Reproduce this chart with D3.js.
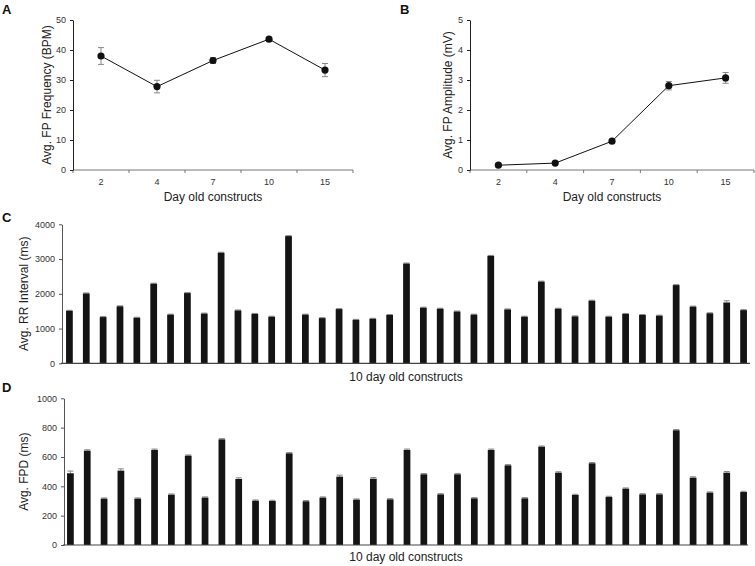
<!DOCTYPE html>
<html><head><meta charset="utf-8">
<script src="https://cdn.jsdelivr.net/npm/d3@7"></script>
<style>
body{margin:0;background:#fff;}
text{font-family:"Liberation Sans",Arial,sans-serif;}
</style></head>
<body><svg id="c" width="755" height="566"></svg>
<script>
// ---- data ----
const days = ["2","4","7","10","15"];
const freqMean = [38.0, 27.8, 36.5, 43.6, 33.3];
const freqErr  = [2.8, 2.1, 1.0, 0.6, 2.2];
const ampMean  = [0.16, 0.23, 0.96, 2.81, 3.07];
const ampErr   = [0.03, 0.03, 0.05, 0.14, 0.18];
const rrValues = [1510,2010,1330,1640,1310,2290,1400,2020,1430,3180,
                  1520,1420,1340,3660,1400,1300,1560,1250,1280,1390,
                  2870,1600,1570,1490,1400,3090,1550,1340,2350,1570,
                  1350,1800,1340,1420,1390,1370,2250,1630,1440,1750,1530];
const rrErr    = [15,15,15,15,15,15,15,15,15,15,15,15,15,15,15,15,15,15,15,15,
                  15,15,15,15,15,15,15,15,15,15,15,15,15,15,15,15,15,15,15,50,15];
const fpdValues = [489,643,316,507,316,648,343,609,323,720,
                   450,302,300,625,298,323,466,309,452,311,
                   648,482,345,482,318,648,543,318,670,493,
                   341,557,327,384,345,345,782,459,357,493,361];
const fpdErr   = [15,6,5,12,5,6,5,5,5,5,8,5,5,5,5,5,10,5,8,5,
                  6,5,5,6,5,6,5,5,5,6,5,5,5,5,5,5,5,6,5,8,5];
const freqTicks = [0,10,20,30,40,50];
const ampTicks  = [0,1,2,3,4,5];
const rrTicks   = [0,1000,2000,3000,4000];
const fpdTicks  = [0,200,400,600,800,1000];

const svg = d3.select("#c");
const axisCol = "#222", tickTextCol = "#333", errCol = "#888";

function styleAxis(g, lineCol){
  g.selectAll("path").attr("stroke", lineCol).attr("stroke-width",1);
  g.selectAll("line").attr("stroke", lineCol);
  g.selectAll("text").attr("fill", tickTextCol).style("font-size","9px").attr("font-family","Liberation Sans, Arial, sans-serif");
}

function letter(t,x,y){
  svg.append("text").attr("x",x).attr("y",y).text(t)
    .style("font-size","13px").style("font-weight","bold").attr("fill","#111");
}

function lineChart(cfg){
  const x = d3.scaleBand().domain(days).range(cfg.xr);
  const y = d3.scaleLinear().domain([0,cfg.max]).range([170,20]);
  const gx = svg.append("g").attr("transform","translate(0,170)");
  gx.append("line").attr("x1",cfg.xr[0]).attr("x2",cfg.xr[1]).attr("stroke","#777");
  const bounds = days.map(d=>x(d)).concat([cfg.xr[1]]);
  gx.selectAll(".tk").data(bounds).enter().append("line")
    .attr("x1",d=>d).attr("x2",d=>d).attr("y1",0).attr("y2",3).attr("stroke","#777");
  gx.selectAll(".lb").data(days).enter().append("text")
    .attr("x",d=>x(d)+x.bandwidth()/2).attr("y",15).attr("text-anchor","middle")
    .attr("fill",tickTextCol).style("font-size","9px").text(d=>d);
  const gy = svg.append("g").attr("transform",`translate(${cfg.xr[0]},0)`)
    .call(d3.axisLeft(y).tickValues(cfg.ticks).tickFormat(d3.format("d")).tickSize(3).tickPadding(4).tickSizeOuter(0));
  styleAxis(gy, axisCol);
  const cx = (d,i)=>x(days[i])+x.bandwidth()/2;
  const eg = svg.append("g").attr("stroke",errCol).attr("stroke-width",1);
  cfg.mean.forEach((m,i)=>{
    const xx = cx(m,i), e = cfg.err[i];
    eg.append("line").attr("x1",xx).attr("x2",xx).attr("y1",y(m-e)).attr("y2",y(m+e));
    eg.append("line").attr("x1",xx-3).attr("x2",xx+3).attr("y1",y(m-e)).attr("y2",y(m-e));
    eg.append("line").attr("x1",xx-3).attr("x2",xx+3).attr("y1",y(m+e)).attr("y2",y(m+e));
  });
  svg.append("path").datum(cfg.mean)
    .attr("d", d3.line().x((d,i)=>cx(d,i)).y(d=>y(d)))
    .attr("fill","none").attr("stroke","#111").attr("stroke-width",1);
  svg.append("g").selectAll("circle").data(cfg.mean).enter().append("circle")
    .attr("cx",(d,i)=>cx(d,i)).attr("cy",d=>y(d)).attr("r",3.6).attr("fill","#111");
  svg.append("text").attr("transform",`translate(${cfg.ylx},95) rotate(-90)`)
    .attr("text-anchor","middle").style("font-size","12px").attr("fill","#222").text(cfg.ylabel);
  svg.append("text").attr("x",(cfg.xr[0]+cfg.xr[1])/2).attr("y",201)
    .attr("text-anchor","middle").style("font-size","12px").attr("fill","#222").text("Day old constructs");
}

lineChart({xr:[73,353], max:50, ticks:freqTicks, mean:freqMean, err:freqErr, ylx:51, ylabel:"Avg. FP Frequency (BPM)"});
lineChart({xr:[470,754], max:5, ticks:ampTicks, mean:ampMean, err:ampErr, ylx:452, ylabel:"Avg. FP Amplitude (mV)"});
letter("A",2,14);
letter("B",400,14);

function barChart(cfg){
  const idx = cfg.vals.map((d,i)=>i);
  const x = d3.scaleBand().domain(idx).range(cfg.xr).paddingInner(0.6).paddingOuter(0.3);
  const y = d3.scaleLinear().domain([0,cfg.max]).range([cfg.y0,cfg.y1]);
  const gy = svg.append("g").attr("transform",`translate(${cfg.ax},0)`)
    .call(d3.axisLeft(y).tickValues(cfg.ticks).tickFormat(d3.format("d")).tickSize(3).tickPadding(4).tickSizeOuter(0));
  styleAxis(gy, "#555");
  const eg = svg.append("g").attr("stroke",errCol).attr("stroke-width",1);
  cfg.vals.forEach((v,i)=>{
    const xx = x(i)+x.bandwidth()/2, e = cfg.err[i];
    eg.append("line").attr("x1",xx).attr("x2",xx).attr("y1",y(v)).attr("y2",y(v+e));
    eg.append("line").attr("x1",xx-3).attr("x2",xx+3).attr("y1",y(v+e)).attr("y2",y(v+e));
  });
  svg.append("g").selectAll("rect").data(cfg.vals).enter().append("rect")
    .attr("x",(d,i)=>x(i)).attr("width",x.bandwidth())
    .attr("y",d=>y(d)).attr("height",d=>cfg.y0-y(d)).attr("fill","#141414");
  svg.append("line").attr("x1",cfg.ax-1).attr("x2",cfg.xend).attr("y1",cfg.y0).attr("y2",cfg.y0)
    .attr("stroke","#444").attr("stroke-width",1.2);
  svg.append("text").attr("transform",`translate(${cfg.ylx},${(cfg.y0+cfg.y1)/2}) rotate(-90)`)
    .attr("text-anchor","middle").style("font-size","12px").attr("fill","#222").text(cfg.ylabel);
  svg.append("text").attr("x",406).attr("y",cfg.y0+cfg.tdy)
    .attr("text-anchor","middle").style("font-size","12px").attr("fill","#222").text("10 day old constructs");
}

barChart({vals:rrValues, err:rrErr, xr:[61,752], ax:62, xend:750, y0:363.3, y1:224.3, max:4000, ticks:rrTicks, ylx:28, tdy:18, ylabel:"Avg. RR Interval (ms)"});
barChart({vals:fpdValues, err:fpdErr, xr:[62,752], ax:64, xend:748, y0:545, y1:398.3, max:1000, ticks:fpdTicks, ylx:28, tdy:16, ylabel:"Avg. FPD (ms)"});
letter("C",2,222);
letter("D",2,392);
</script></body></html>
